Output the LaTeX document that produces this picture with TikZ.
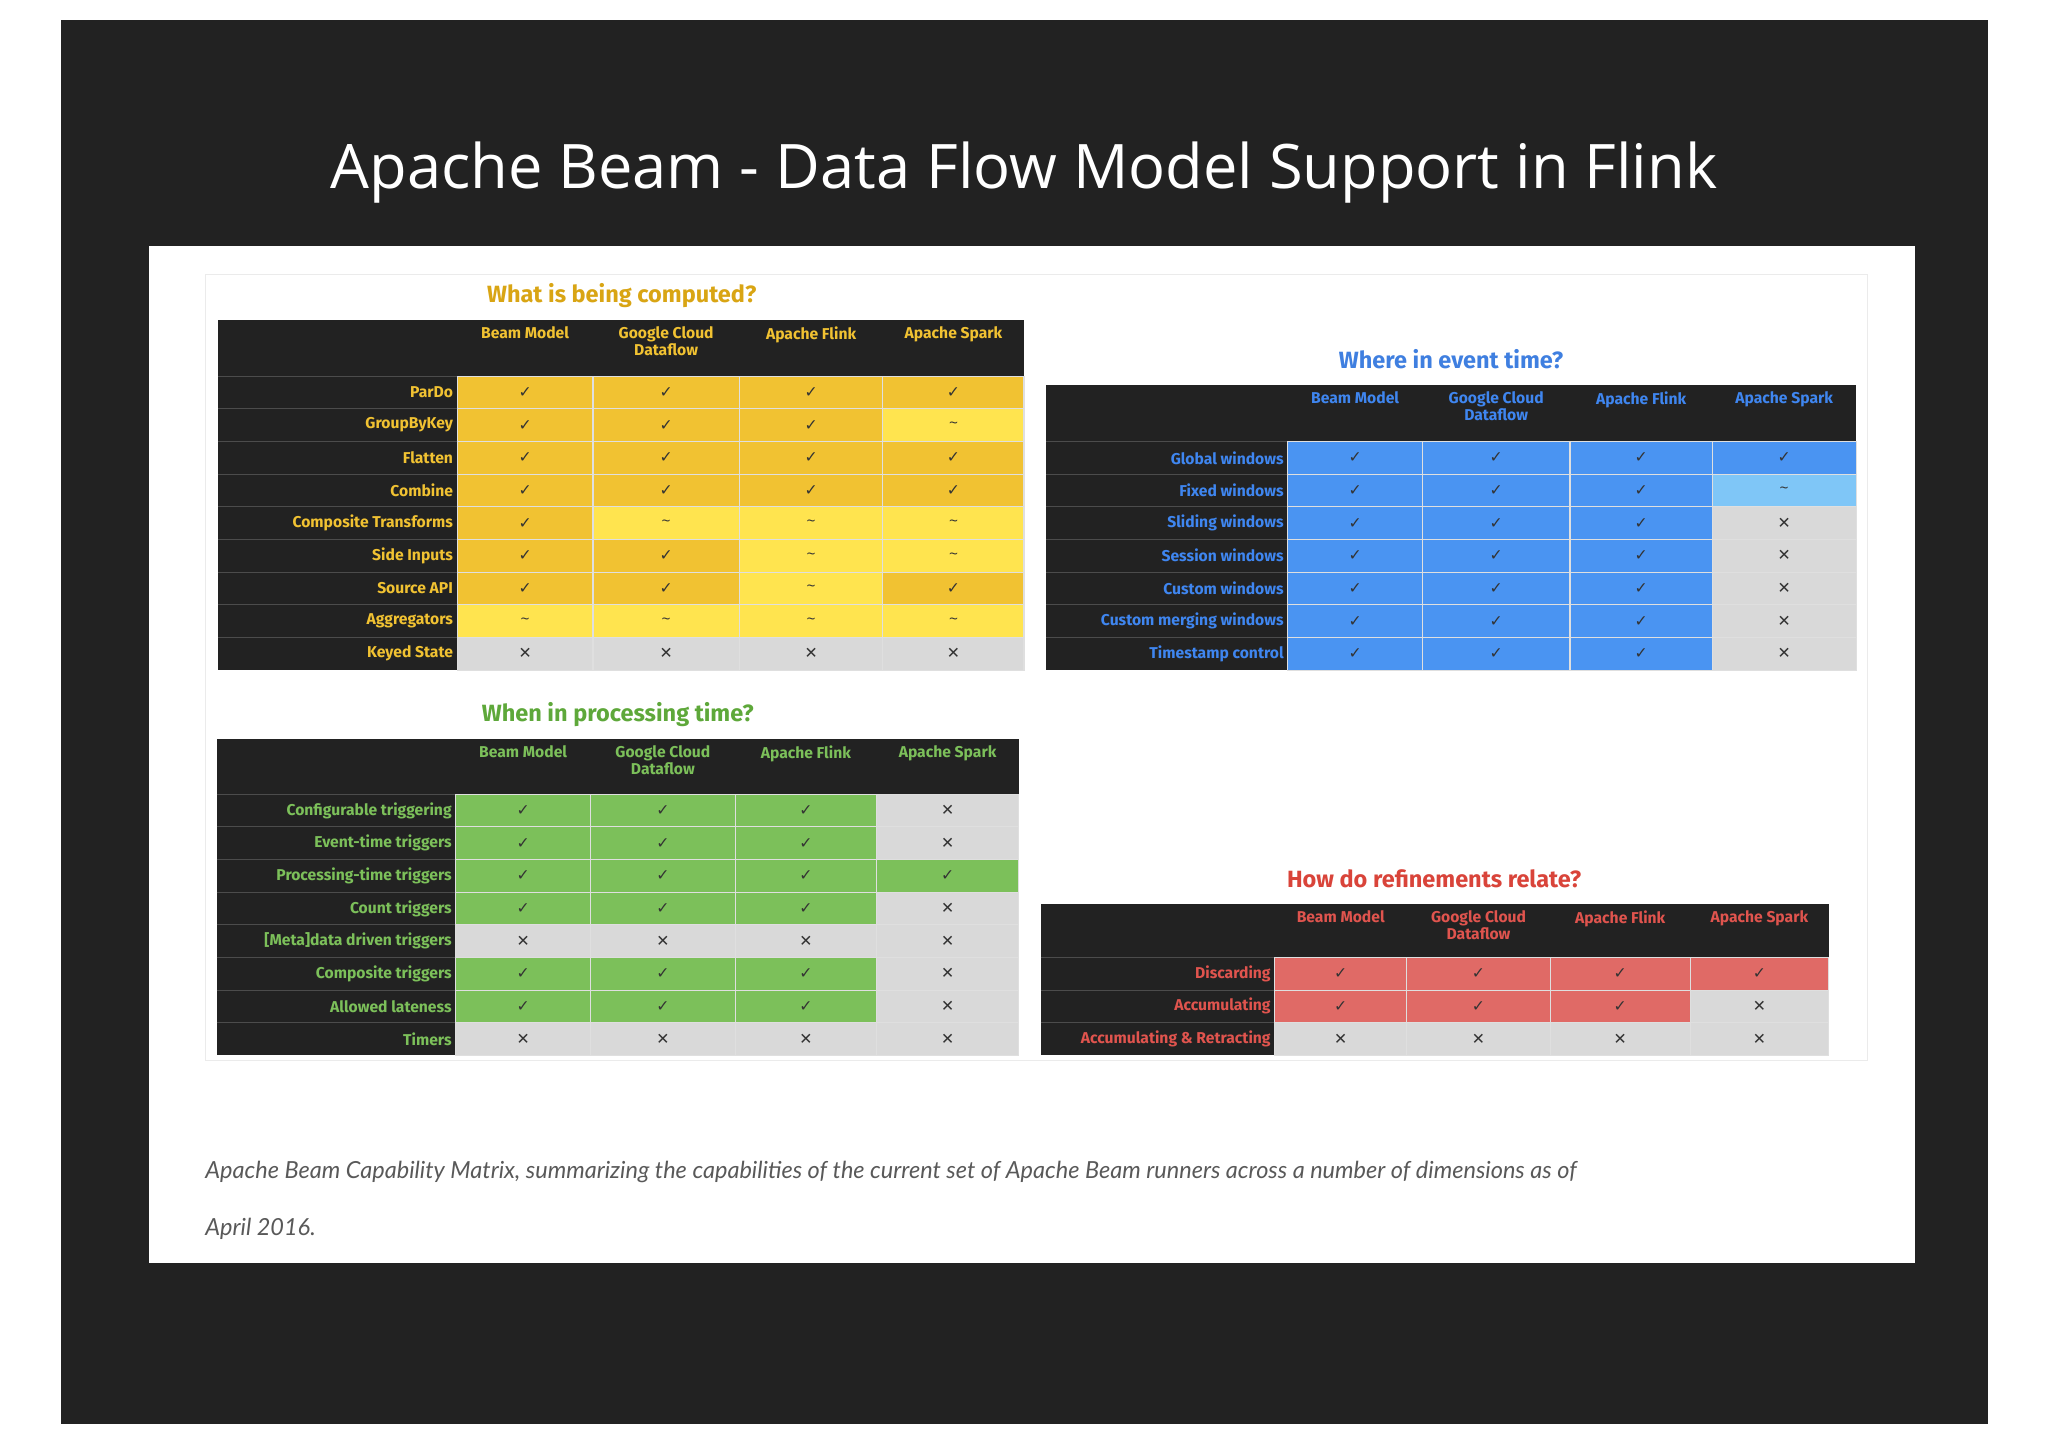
\documentclass[tikz,border=0pt]{standalone}
\usepackage{fontspec}
\setmainfont{Open Sans}
\newfontfamily\sym{DejaVu Sans}
\newfontfamily\tb{Fira Sans}
\newfontfamily\capfont{Lato}
\definecolor{frame}{HTML}{222222}
\definecolor{ydk}{HTML}{F1C232}
\definecolor{ylt}{HTML}{FFE44F}
\definecolor{ytx}{HTML}{F1C232}
\definecolor{bdk}{HTML}{4A94F2}
\definecolor{blt}{HTML}{7FC6F7}
\definecolor{btx}{HTML}{3F86F0}
\definecolor{gdk}{HTML}{7CC05A}
\definecolor{gtx}{HTML}{7CC05A}
\definecolor{rdk}{HTML}{E06A66}
\definecolor{rtx}{HTML}{E0544E}
\definecolor{gy}{HTML}{D9D9D9}
\definecolor{ttlY}{HTML}{D9A514}
\definecolor{ttlB}{HTML}{3F7FE0}
\definecolor{ttlG}{HTML}{5EA83A}
\definecolor{ttlR}{HTML}{D9443A}
\def\mkc{{\sym ✓}}\def\mkt{\textasciitilde}\def\mkx{{\sym ✕}}
\tikzset{tab/.style={font=\tb\fontsize{12}{13}\selectfont\bfseries},
 grid/.style={draw=white!75!gray,line width=0.8pt},
 sec/.style={font=\tb\fontsize{18}{20}\selectfont\bfseries}}
\newcommand\drawtable[9]{%
 \fill[frame] (#1,#7) rectangle (#6,#8);
 \foreach \h/\cx in {Beam Model/{(#2+#3)/2},{Google Cloud\\Dataflow}/{(#3+#4)/2},Apache Flink/{(#4+#5)/2},Apache Spark/{(#5+#6)/2}}
   \node[tab,text=#9tx,align=center,anchor=north,inner sep=0pt] at ({\cx},#7+5) {\h};
}
\newcommand\drawrows[8]{%
 \foreach \lab/\ca/\ma/\cb/\mb/\cc/\mc/\cd/\md [count=\i] in \rows {
  \pgfmathsetmacro\yy{#7+25*(\i-1)}
  \fill[frame] (#1,\yy) rectangle (#2,\yy+25);
  \draw[black!70,line width=0.6pt] (#1,\yy) -- (#2,\yy);
  \node[tab,text=#8tx,anchor=east,inner sep=0pt] (l\i) at (#2-3,\yy+12.5) {\lab};
  \foreach \xa/\xb/\cl/\m in {#2/#3/\ca/\ma,#3/#4/\cb/\mb,#4/#5/\cc/\mc,#5/#6/\cd/\md}{
   \fill[fill=\cl,grid] (\xa,\yy) rectangle (\xb,\yy+25);
   \node[font=\fontsize{12}{12}\selectfont,text=black!80] at ({(\xa+\xb)/2},\yy+12.5) {\csname mk\m\endcsname};
  }
 }
}
\begin{document}
\begin{tikzpicture}[x=1pt,y=-1pt]
\useasboundingbox (0,0) rectangle (1568,1108);
\fill[white] (0,0) rectangle (1568,1108);
\fill[frame] (47,15) rectangle (1522,1090);
\node[text=white,font=\fontsize{47}{52}\selectfont] (title) at (784,132) {Apache Beam - Data Flow Model Support in Flink};
\fill[white] (114,188) rectangle (1466,967);
\draw[black!8,line width=0.8pt] (157,210) rectangle (1430,812);
\node[sec,text=ttlY] (t1) at (476,226) {What is being computed?};
\drawtable{167}{350}{454}{566}{676}{784}{245}{288}{y}
\def\rows{ParDo/ydk/c/ydk/c/ydk/c/ydk/c, GroupByKey/ydk/c/ydk/c/ydk/c/ylt/t, Flatten/ydk/c/ydk/c/ydk/c/ydk/c, Combine/ydk/c/ydk/c/ydk/c/ydk/c, Composite Transforms/ydk/c/ylt/t/ylt/t/ylt/t, Side Inputs/ydk/c/ydk/c/ylt/t/ylt/t, Source API/ydk/c/ydk/c/ylt/t/ydk/c, Aggregators/ylt/t/ylt/t/ylt/t/ylt/t, Keyed State/gy/x/gy/x/gy/x/gy/x}
\drawrows{167}{350}{454}{566}{676}{784}{288}{y}
\node[sec,text=ttlB] (t2) at (1111,275) {Where in event time?};
\drawtable{801}{986}{1089}{1202}{1311}{1421}{295}{338}{b}
\def\rows{Global windows/bdk/c/bdk/c/bdk/c/bdk/c, Fixed windows/bdk/c/bdk/c/bdk/c/blt/t, Sliding windows/bdk/c/bdk/c/bdk/c/gy/x, Session windows/bdk/c/bdk/c/bdk/c/gy/x, Custom windows/bdk/c/bdk/c/bdk/c/gy/x, Custom merging windows/bdk/c/bdk/c/bdk/c/gy/x, Timestamp control/bdk/c/bdk/c/bdk/c/gy/x}
\drawrows{801}{986}{1089}{1202}{1311}{1421}{338}{b}
\node[sec,text=ttlG] (t3) at (473,547) {When in processing time?};
\drawtable{166}{349}{452}{563}{671}{780}{566}{608}{g}
\def\rows{Configurable triggering/gdk/c/gdk/c/gdk/c/gy/x, Event-time triggers/gdk/c/gdk/c/gdk/c/gy/x, Processing-time triggers/gdk/c/gdk/c/gdk/c/gdk/c, Count triggers/gdk/c/gdk/c/gdk/c/gy/x, {[Meta]data driven triggers}/gy/x/gy/x/gy/x/gy/x, Composite triggers/gdk/c/gdk/c/gdk/c/gy/x, Allowed lateness/gdk/c/gdk/c/gdk/c/gy/x, Timers/gy/x/gy/x/gy/x/gy/x}
\drawrows{166}{349}{452}{563}{671}{780}{608}{g}
\node[sec,text=ttlR] (t4) at (1098,673) {How do refinements relate?};
\drawtable{797}{976}{1077}{1187}{1294}{1400}{692}{733}{r}
\def\rows{Discarding/rdk/c/rdk/c/rdk/c/rdk/c, Accumulating/rdk/c/rdk/c/rdk/c/gy/x, Accumulating \& Retracting/gy/x/gy/x/gy/x/gy/x}
\drawrows{797}{976}{1077}{1187}{1294}{1400}{733}{r}
\node[anchor=west,inner sep=0pt,text=black!65,font=\capfont\itshape\fontsize{18}{20}\selectfont] (c1) at (157,897) {Apache Beam Capability Matrix, summarizing the capabilities of the current set of Apache Beam runners across a number of dimensions as of};
\node[anchor=west,inner sep=0pt,text=black!65,font=\capfont\itshape\fontsize{18}{20}\selectfont] (c2) at (157,941) {April 2016.};
\end{tikzpicture}
\end{document}
